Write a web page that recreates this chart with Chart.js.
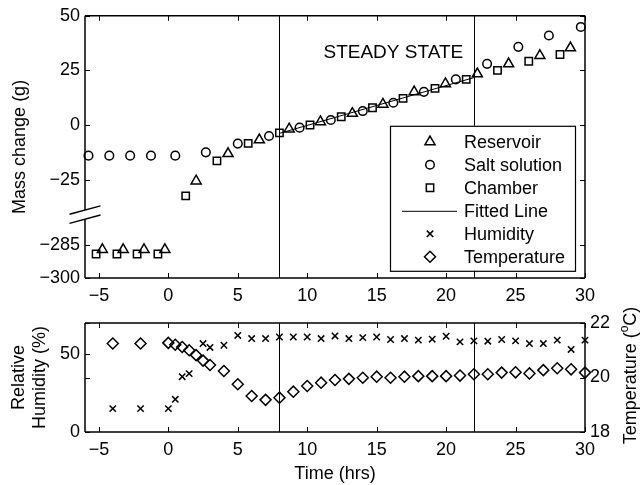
<!DOCTYPE html>
<html>
<head>
<meta charset="utf-8">
<script src="https://cdn.jsdelivr.net/npm/chart.js@4.4.0/dist/chart.umd.min.js"></script>
<style>
  html, body { margin: 0; padding: 0; background: #fff; }
  #wrap { position: relative; width: 642px; height: 485px; overflow: hidden; }
  #massChart { position: absolute; left: 0; top: 0; }
  #climateChart { position: absolute; left: 0; top: 300px; }
</style>
</head>
<body>
<div id="wrap">
  <canvas id="massChart" width="642" height="320"></canvas>
  <canvas id="climateChart" width="642" height="185"></canvas>
</div>
<script>
// --- data ---
const seriesNames = ['Reservoir', 'Salt solution', 'Chamber', 'Fitted Line', 'Humidity', 'Temperature'];

const reservoirTime = [-4.75, -3.25, -1.75, -0.25, 2.0, 4.3, 6.55, 8.7, 10.95, 13.25, 15.45, 17.7, 19.95, 22.25, 24.5, 26.75, 28.95];
const reservoirMass = [-287, -287, -287, -287, -25.6, -13.1, -6.8, -1.8, 1.5, 5.3, 9.5, 15.2, 18.9, 23.4, 28.0, 31.8, 35.3];

const saltTime = [-5.75, -4.25, -2.75, -1.25, 0.5, 2.7, 5.0, 7.25, 9.45, 11.7, 14.0, 16.2, 18.4, 20.7, 22.95, 25.2, 27.4, 29.7];
const saltMass = [-14, -14, -14, -14, -14, -12.5, -8.5, -5.0, -1.2, 2.3, 6.4, 10.2, 15.2, 20.9, 28.0, 35.8, 41.0, 44.9];

const chamberTime = [-5.2, -3.7, -2.25, -0.75, 1.25, 3.5, 5.75, 8.0, 10.2, 12.45, 14.7, 16.9, 19.2, 21.45, 23.7, 25.95, 28.2];
const chamberMass = [-289, -289, -289, -289, -32.4, -16.4, -8.4, -3.6, 0.0, 3.8, 7.9, 12.2, 16.8, 20.9, 25.0, 29.2, 32.3];

const fitTime = [8, 22];
const fitMass = [-3.8, 21.7];

const humidityTime = [-4, -2, 0, 0.5, 1, 1.5, 2.5, 3, 4, 5, 6, 7, 8, 9, 10, 11, 12, 13, 14, 15, 16, 17, 18, 19, 20, 21, 22, 23, 24, 25, 26, 27, 28, 29, 30];
const humidity = [15, 15, 15, 21, 35.5, 37.5, 56.8, 54.3, 55.7, 62, 60, 60, 61, 61, 61, 60, 61.7, 60, 60.6, 61, 59.4, 60, 59, 59.6, 61.5, 57.9, 58.5, 58.3, 59.4, 58.5, 56.8, 56.8, 59, 53, 59];

const tempTime = [-4, -2, 0, 0.5, 1, 1.5, 2, 2.5, 3, 4, 5, 6, 7, 8, 9, 10, 11, 12, 13, 14, 15, 16, 17, 18, 19, 20, 21, 22, 23, 24, 25, 26, 27, 28, 29, 30];
const temperature = [21.25, 21.25, 21.27, 21.2, 21.12, 21.0, 20.82, 20.62, 20.46, 20.24, 19.75, 19.32, 19.18, 19.26, 19.48, 19.69, 19.81, 19.91, 19.95, 19.99, 20.03, 19.99, 20.03, 20.05, 20.05, 20.05, 20.07, 20.12, 20.12, 20.18, 20.19, 20.15, 20.27, 20.34, 20.3, 20.18];

const xTicks = [-5, 0, 5, 10, 15, 20, 25, 30];
const massTicks = [50, 25, 0, -25, -285, -300];
const humidityTicks = [0, 50];
const tempTicks = [18, 20, 22];
const steadyBounds = [8, 22];
const steadyLabel = { text: 'STEADY STATE', x: 16.2, y: 33 };

// broken mass axis: values far below zero are shifted up
const breakShift = 230;
const breakAt = -41;
const toDisplay = v => (v < -100 ? v + breakShift : v);
const fromDisplay = v => (v < breakAt ? v - breakShift : v);
const minus = s => String(s).replace('-', '\u2212');

const pts = (xs, ys, f) => xs.map((x, i) => ({ x: x, y: f ? f(ys[i]) : ys[i] }));

Chart.defaults.font.family = '"Liberation Sans", Arial, Helvetica, sans-serif';
Chart.defaults.font.size = 18;
Chart.defaults.color = '#000';

const markerStyle = {
  Reservoir: { pointStyle: 'triangle', radius: 5.8 },
  'Salt solution': { pointStyle: 'circle', radius: 4.3 },
  Chamber: { pointStyle: 'rect', radius: 5.2 },
  Humidity: { pointStyle: 'crossRot', radius: 4.5 },
  Temperature: { pointStyle: 'rectRot', radius: 5.5 }
};

function markerSet(label, data, yAxisID) {
  const m = markerStyle[label];
  return {
    label: label,
    data: data,
    yAxisID: yAxisID || 'y',
    showLine: false,
    clip: false,
    pointStyle: m.pointStyle,
    pointRadius: m.radius,
    pointHoverRadius: m.radius,
    pointBorderWidth: 1.5,
    pointBorderColor: '#000',
    pointBackgroundColor: 'rgba(0,0,0,0)'
  };
}

const fixTicks = vals => scale => { scale.ticks = vals.map(v => ({ value: v })); };

function line(ctx, x1, y1, x2, y2) {
  ctx.beginPath(); ctx.moveTo(x1, y1); ctx.lineTo(x2, y2); ctx.stroke();
}

// vertical lines bounding the steady-state period
const steadyLines = {
  id: 'steadyLines',
  beforeDatasetsDraw(chart) {
    const { ctx, chartArea: a } = chart;
    const xs = chart.scales.x;
    ctx.save();
    ctx.strokeStyle = '#000';
    ctx.lineWidth = 1;
    steadyBounds.forEach(v => {
      const px = Math.round(xs.getPixelForValue(v)) + 0.5;
      line(ctx, px, a.top, px, a.bottom);
    });
    ctx.restore();
  }
};

// MATLAB-style box with inward ticks
const frameTicks = {
  id: 'frameTicks',
  afterDatasetsDraw(chart, args, opts) {
    const { ctx, chartArea: a } = chart;
    ctx.save();
    ctx.strokeStyle = '#000';
    ctx.lineWidth = 1;
    const xs = chart.scales.x;
    xs.ticks.forEach(t => {
      const px = Math.round(xs.getPixelForValue(t.value)) + 0.5;
      line(ctx, px, a.bottom, px, a.bottom - 5);
      line(ctx, px, a.top, px, a.top + 5);
    });
    (opts.ySides || []).forEach(([id, sides]) => {
      const s = chart.scales[id];
      s.ticks.forEach(t => {
        const py = Math.round(s.getPixelForValue(t.value)) + 0.5;
        if (sides.includes('left')) line(ctx, a.left, py, a.left + 5, py);
        if (sides.includes('right')) line(ctx, a.right, py, a.right - 5, py);
      });
    });
    ctx.lineWidth = 1.5;
    line(ctx, a.left, a.top, a.right, a.top);
    line(ctx, a.right, a.top, a.right, a.bottom);
    line(ctx, a.left, a.bottom, a.right, a.bottom);
    if (opts.axisBreak) {
      const cy = chart.scales.y.getPixelForValue(breakAt);
      line(ctx, a.left, a.top, a.left, cy - 4.6);
      line(ctx, a.left, cy + 4.6, a.left, a.bottom);
      [-4.6, 4.6].forEach(d => line(ctx, a.left - 15.5, cy + d + 4.15, a.left + 15.5, cy + d - 4.15));
    } else {
      line(ctx, a.left, a.top, a.left, a.bottom);
    }
    ctx.restore();
  }
};

// legend box and "STEADY STATE" note on the mass panel
const massNotes = {
  id: 'massNotes',
  afterDraw(chart) {
    const { ctx, chartArea: a } = chart;
    const xs = chart.scales.x, ys = chart.scales.y;
    ctx.save();
    ctx.fillStyle = '#000';
    ctx.font = '19px "Liberation Sans", Arial, sans-serif';
    ctx.textAlign = 'center';
    ctx.textBaseline = 'middle';
    ctx.fillText(steadyLabel.text, xs.getPixelForValue(steadyLabel.x), ys.getPixelForValue(steadyLabel.y));

    ctx.font = '18px "Liberation Sans", Arial, sans-serif';
    const bx = a.right - 195, by = a.top + 110, bw = 185, bh = 145;
    ctx.fillStyle = '#fff';
    ctx.fillRect(bx, by, bw, bh);
    ctx.strokeStyle = '#000';
    ctx.lineWidth = 1.2;
    ctx.strokeRect(bx + 0.5, by + 0.5, bw, bh);
    ctx.textAlign = 'left';
    seriesNames.forEach((name, i) => {
      const cy = by + 16 + i * 23;
      const mx = bx + 40;
      ctx.strokeStyle = '#000';
      ctx.fillStyle = 'rgba(0,0,0,0)';
      ctx.lineWidth = 1.5;
      if (markerStyle[name]) {
        Chart.helpers.drawPoint(ctx, { pointStyle: markerStyle[name].pointStyle, radius: markerStyle[name].radius, borderWidth: 1.5, rotation: 0 }, mx, cy);
      } else {
        ctx.lineWidth = 1;
        line(ctx, mx - 28, cy + 0.5, mx + 27, cy + 0.5);
      }
      ctx.fillStyle = '#000';
      ctx.fillText(name, bx + 74, cy + 1);
    });
    ctx.restore();
  }
};

// right-hand axis title, reading bottom to top with a raised "o"
const tempTitle = {
  id: 'tempTitle',
  afterDraw(chart) {
    const { ctx, chartArea: a } = chart;
    ctx.save();
    ctx.fillStyle = '#000';
    ctx.translate(631, (a.top + a.bottom) / 2 - 2);
    ctx.rotate(-Math.PI / 2);
    ctx.textBaseline = 'middle';
    ctx.textAlign = 'left';
    const big = '18px "Liberation Sans", Arial, sans-serif';
    const small = '12px "Liberation Sans", Arial, sans-serif';
    ctx.font = big;
    const p1 = 'Temperature (', p3 = 'C)';
    const w1 = ctx.measureText(p1).width, w3 = ctx.measureText(p3).width;
    ctx.font = small;
    const w2 = ctx.measureText('o').width;
    let x = -(w1 + w2 + w3) / 2;
    ctx.font = big; ctx.fillText(p1, x, 0); x += w1;
    ctx.font = small; ctx.fillText('o', x, -6); x += w2;
    ctx.font = big; ctx.fillText(p3, x, 0);
    ctx.restore();
  }
};

const xScale = (height, withTitle) => ({
  type: 'linear',
  min: -6,
  max: 30,
  afterBuildTicks: fixTicks(xTicks),
  afterFit: s => { s.height = height; },
  grid: { display: false, drawTicks: false },
  border: { display: false },
  ticks: { padding: 7, maxRotation: 0, autoSkip: false, callback: v => minus(v) },
  title: withTitle ? { display: true, text: 'Time (hrs)', padding: { top: 0, bottom: 0 } } : { display: false }
});

new Chart(document.getElementById('massChart'), {
  type: 'scatter',
  data: {
    datasets: [
      markerSet('Reservoir', pts(reservoirTime, reservoirMass, toDisplay)),
      markerSet('Salt solution', pts(saltTime, saltMass, toDisplay)),
      markerSet('Chamber', pts(chamberTime, chamberMass, toDisplay)),
      {
        label: 'Fitted Line',
        data: pts(fitTime, fitMass),
        showLine: true,
        borderColor: '#000',
        borderWidth: 1,
        pointRadius: 0,
        clip: false
      }
    ]
  },
  options: {
    responsive: false,
    animation: false,
    layout: { padding: { top: 14, right: 57, left: 0, bottom: 0 } },
    plugins: { legend: { display: false }, tooltip: { enabled: false }, frameTicks: { axisBreak: true, ySides: [['y', ['left', 'right']]] } },
    scales: {
      x: xScale(42, false),
      y: {
        type: 'linear',
        min: toDisplay(-300),
        max: 50,
        afterBuildTicks: fixTicks(massTicks.map(toDisplay)),
        afterFit: s => { s.width = 85; },
        grid: { display: false, drawTicks: false },
        border: { display: false },
        ticks: { padding: 5, callback: v => minus(fromDisplay(v)) },
        title: { display: true, text: 'Mass change (g)', padding: { top: 9, bottom: 0 } }
      }
    }
  },
  plugins: [steadyLines, frameTicks, massNotes]
});

new Chart(document.getElementById('climateChart'), {
  type: 'scatter',
  data: {
    datasets: [
      markerSet('Humidity', pts(humidityTime, humidity), 'y'),
      markerSet('Temperature', pts(tempTime, temperature), 'y1')
    ]
  },
  options: {
    responsive: false,
    animation: false,
    layout: { padding: { top: 23, right: 0, left: 0, bottom: 0 } },
    plugins: { legend: { display: false }, tooltip: { enabled: false }, frameTicks: { ySides: [['y', ['left']], ['y1', ['left', 'right']]] } },
    scales: {
      x: xScale(53, true),
      y: {
        type: 'linear',
        position: 'left',
        min: 0,
        max: 70,
        afterBuildTicks: fixTicks(humidityTicks),
        afterFit: s => { s.width = 85; },
        grid: { display: false, drawTicks: false },
        border: { display: false },
        ticks: { padding: 5 },
        title: { display: true, text: ['Relative', 'Humidity (%)'], padding: { top: 8, bottom: 0 } }
      },
      y1: {
        type: 'linear',
        position: 'right',
        min: 18,
        max: 22,
        afterBuildTicks: fixTicks(tempTicks),
        afterFit: s => { s.width = 57; },
        grid: { display: false, drawTicks: false },
        border: { display: false },
        ticks: { padding: 5 }
      }
    }
  },
  plugins: [steadyLines, frameTicks, tempTitle]
});
</script>
</body>
</html>
